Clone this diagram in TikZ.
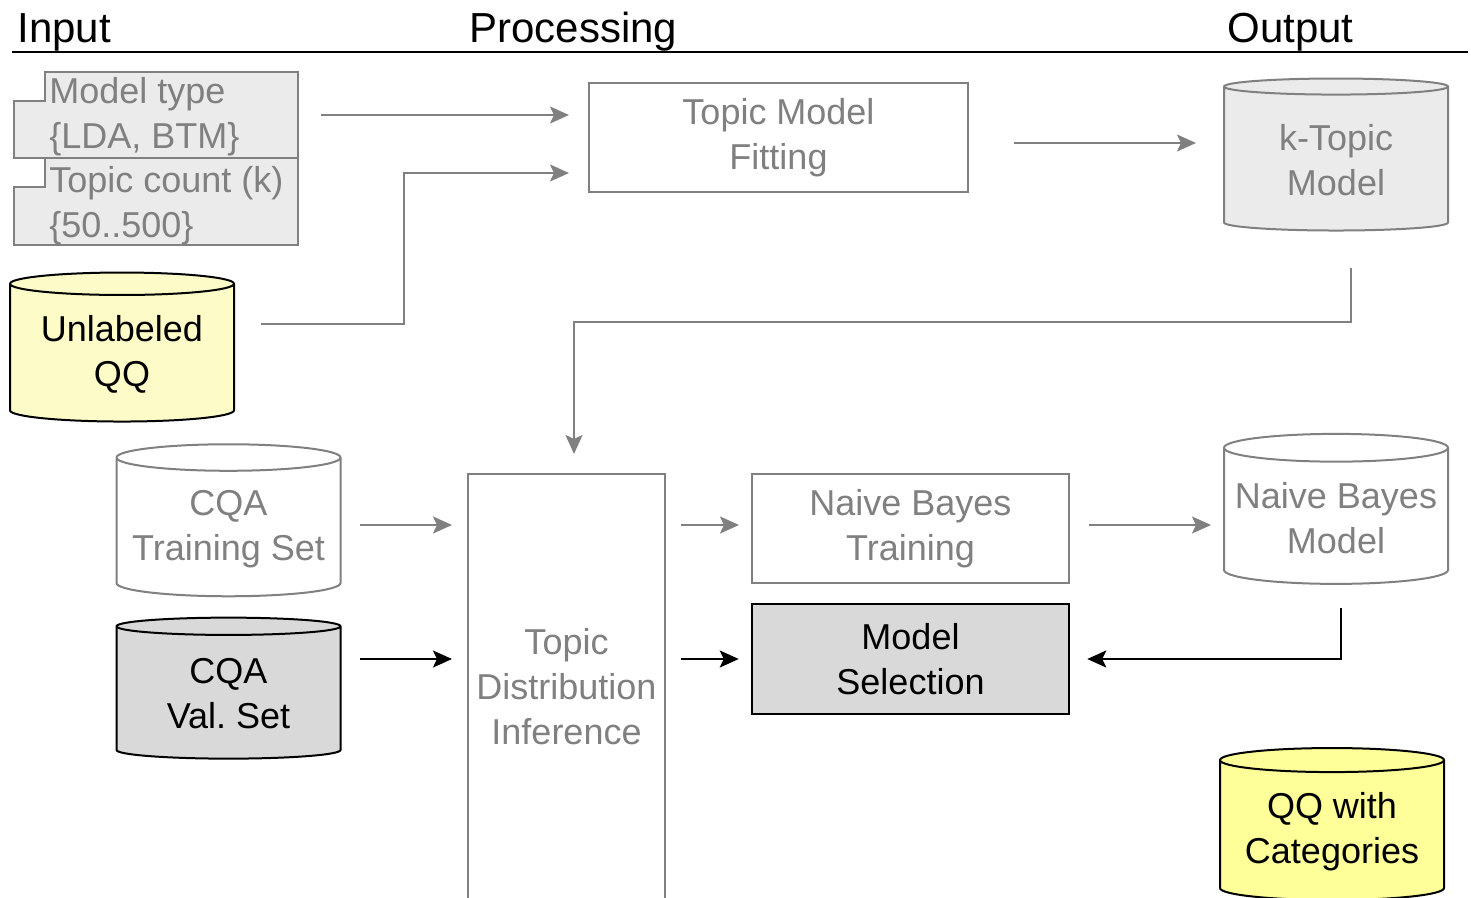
\documentclass[tikz,border=0pt]{standalone}
\usepackage{fontspec}
\setmainfont{Liberation Sans}
\usetikzlibrary{shapes.geometric,arrows.meta}
\definecolor{linegray}{RGB}{128,128,128}
\definecolor{boxgray}{RGB}{235,235,235}
\definecolor{selgray}{RGB}{217,217,217}
\definecolor{paleyellow}{RGB}{253,252,200}
\definecolor{brightyellow}{RGB}{255,255,153}

\begin{document}
\begin{tikzpicture}[x=1pt,y=-1pt,>={Stealth[length=19pt,width=17pt,inset=4pt]},
	every node/.style={font=\fontsize{36}{45}\selectfont},
	box/.style={rectangle,draw=linegray,line width=2pt,align=center,text=linegray,fill=white},
	store/.style={cylinder,shape border rotate=90,aspect=0.133,line width=2pt,minimum width=224pt,align=center},
	param/.style={draw=linegray,fill=boxgray,line width=2pt},
	head/.style={anchor=base west,font=\fontsize{42}{50}\selectfont},
	gflow/.style={->,color=linegray,line width=2pt},
	bflow/.style={->,color=black,line width=2pt}]

	\useasboundingbox (0,0) rectangle (1471,897);

	% titles
	\node[head] (tin) at (14,42) {Input};
	\node[head] (tproc) at (466,42) {Processing};
	\node[head] (tout) at (1224,42) {Output};
	\draw[line width=2.5pt] (12,52) -- (1468,52);

	% input parameters
	\node[minimum width=284pt,minimum height=86pt] (mtype) at (156,115) {};
	\filldraw[param] (mtype.south west) -- ++(0,-57) -- ++(31,0) |- (mtype.north east) -- (mtype.south east) -- cycle;
	\node[text=linegray,align=left,anchor=west] (mtypetxt) at ([xshift=32pt,yshift=-2pt]mtype.west) {Model type\\\{LDA, BTM\}};
	\node[minimum width=284pt,minimum height=87pt] (tcount) at (156,201.5) {};
	\filldraw[param] (tcount.south west) -- ++(0,-58) -- ++(31,0) |- (tcount.north east) -- (tcount.south east) -- cycle;
	\node[text=linegray,align=left,anchor=west] (tcounttxt) at ([xshift=32pt,yshift=-4pt]tcount.west) {Topic count (k)\\\{50..500\}};

	% data stores
	\node[store,draw=black,fill=paleyellow,minimum height=149pt] (uqq) at (122,354.5) {Unlabeled\\QQ};
	\node[store,draw=linegray,fill=white,text=linegray,minimum height=152pt] (trainset) at (228.5,529) {CQA\\Training Set};
	\node[store,draw=black,fill=selgray,minimum height=141pt] (valset) at (228.5,694) {CQA\\Val.\ Set};
	\node[store,draw=linegray,fill=boxgray,text=linegray,minimum height=152pt] (ktm) at (1336,160) {k-Topic\\Model};
	\node[store,draw=linegray,fill=white,text=linegray,minimum height=150pt] (nbm) at (1336,518) {Naive Bayes\\Model};
	\node[store,draw=black,fill=brightyellow,minimum height=152pt] (qqcat) at (1332,832) {QQ with\\Categories};

	% processing steps
	\node[box,minimum width=379pt,minimum height=109pt] (fit) at (778.5,137.5) {Topic Model\\Fitting};
	\node[box,minimum width=197pt,minimum height=426pt] (tdi) at (566.5,687) {Topic\\Distribution\\Inference};
	\node[box,minimum width=317pt,minimum height=109pt] (nbt) at (910.5,528.5) {Naive Bayes\\Training};
	\node[box,draw=black,text=black,fill=selgray,line width=2.5pt,minimum width=317pt,minimum height=110pt] (msel) at (910.5,659) {Model\\Selection};

	% connectors
	\coordinate (row1) at (0,525);
	\coordinate (row2) at (0,659);
	\coordinate (k1) at (404,324);
	\coordinate (k3) at (1351,322);
	\coordinate (k4) at (574,322);
	\coordinate (k5) at (1341,659);
	\path (fit.east) ++(0,5.5) coordinate (k2);

	\draw[gflow,shorten <=23pt,shorten >=19pt] (mtype.east) -- (mtype.east -| fit.west);
	\draw[gflow,shorten <=26pt,shorten >=19pt] (uqq.east |- k1) -- (k1) |- ([yshift=-35.5pt]fit.west);
	\draw[gflow,shorten <=45pt,shorten >=27pt] (k2) -- (k2 -| ktm.west);
	\draw[gflow,shorten <=36pt,shorten >=19pt] (ktm.south -| k3) -- (k3) -- (k4) -- (k4 |- tdi.north);
	\draw[gflow,shorten <=18pt,shorten >=15pt] (trainset.east |- row1) -- (tdi.west |- row1);
	\draw[bflow,shorten <=18pt,shorten >=15pt] (valset.east |- row2) -- (tdi.west |- row2);
	\draw[gflow,shorten <=15pt,shorten >=12pt] (tdi.east |- row1) -- (nbt.west |- row1);
	\draw[bflow,shorten <=15pt,shorten >=12pt] (tdi.east |- row2) -- (msel.west |- row2);
	\draw[gflow,shorten <=19pt,shorten >=12pt] (nbt.east |- row1) -- (nbm.west |- row1);
	\draw[bflow,shorten <=23pt,shorten >=17pt] (nbm.south -| k5) -- (k5) -- (msel.east |- k5);

\end{tikzpicture}
\end{document}
